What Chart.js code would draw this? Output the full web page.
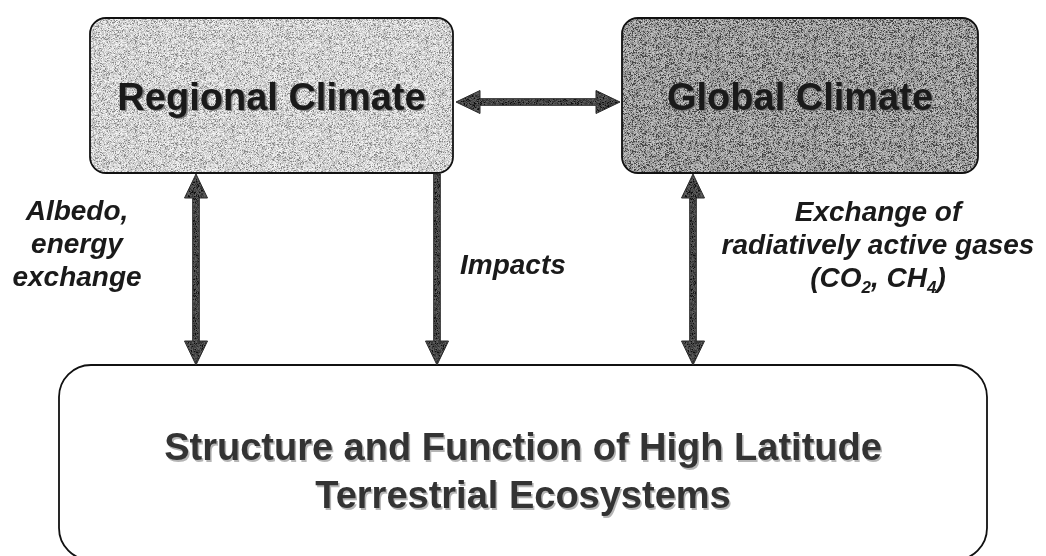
<!DOCTYPE html>
<html>
<head>
<meta charset="utf-8">
<script src="https://cdn.jsdelivr.net/npm/chart.js@4"></script>
<style>
  body { margin: 0; background: #fff; }
  #wrap { width: 1046px; height: 556px; }
</style>
</head>
<body>
<div id="wrap"><canvas id="diagram" width="1046" height="556"></canvas></div>
<script>
// boxes of the diagram
let nodeNames = ['Regional Climate', 'Global Climate', 'Structure and Function of High Latitude|Terrestrial Ecosystems']
let nodeShade = ['light', 'dark', 'none']

// links between boxes
let linkFrom = [0, 0, 0, 1]
let linkTo = [1, 2, 2, 2]
let linkTwoWay = [true, true, false, true]
let linkLabels = ['', 'Albedo,|energy|exchange', 'Impacts', 'Exchange of|radiatively active gases|(CO_2, CH_4)']

// layout (in axis units, 1 unit = 1px of the reference)
let boxLayout = [
    { x0: 90, x1: 453, y0: 18, y1: 173, r: 16, size: 38, lh: 0 },
    { x0: 622, x1: 978, y0: 18, y1: 173, r: 16, size: 38, lh: 0 },
    { x0: 59, x1: 987, y0: 365, y1: 560, r: 32, size: 38, lh: 48 }
]
let linkLayout = [
    { dir: 'h', at: 102 },
    { dir: 'v', at: 196 },
    { dir: 'v', at: 437 },
    { dir: 'v', at: 693 }
]
let labelLayout = [
    null,
    { x: 77, y: 220, align: 'center' },
    { x: 460, y: 274, align: 'left' },
    { x: 878, y: 221, align: 'center' }
]

// speckled fills like the scanned original
function speckle (ctx, base, spread, dark) {
    let c = document.createElement('canvas')
    c.width = 97; c.height = 89
    let g = c.getContext('2d')
    let img = g.createImageData(97, 89)
    for (let i = 0; i < 97 * 89; i++) {
        let s = Math.sin(i * 12.9898 + 78.233) * 43758.5453
        let n = s - Math.floor(s)
        let v = base + (n - 0.5) * spread
        if (n > 1 - dark) v = base - spread
        v = Math.max(0, Math.min(255, v))
        img.data[i * 4] = v; img.data[i * 4 + 1] = v; img.data[i * 4 + 2] = v; img.data[i * 4 + 3] = 255
    }
    g.putImageData(img, 0, 0)
    return ctx.createPattern(c, 'repeat')
}

function roundRect (ctx, x0, y0, x1, y1, r) {
    ctx.beginPath()
    ctx.moveTo(x0 + r, y0)
    ctx.lineTo(x1 - r, y0)
    ctx.arcTo(x1, y0, x1, y0 + r, r)
    ctx.lineTo(x1, y1 - r)
    ctx.arcTo(x1, y1, x1 - r, y1, r)
    ctx.lineTo(x0 + r, y1)
    ctx.arcTo(x0, y1, x0, y1 - r, r)
    ctx.lineTo(x0, y0 + r)
    ctx.arcTo(x0, y0, x0 + r, y0, r)
    ctx.closePath()
}

// arrow from (ax,ay) to (bx,by), heads on one or both ends
function arrow (ctx, ax, ay, bx, by, both, fill) {
    let len = Math.hypot(bx - ax, by - ay)
    let hl = 24, hw = 11.5, sw = 3.3
    ctx.save()
    ctx.translate(ax, ay)
    ctx.rotate(Math.atan2(by - ay, bx - ax))
    ctx.beginPath()
    let s = both ? hl : 0
    ctx.moveTo(s, -sw)
    ctx.lineTo(len - hl, -sw)
    ctx.lineTo(len - hl, -hw)
    ctx.lineTo(len, 0)
    ctx.lineTo(len - hl, hw)
    ctx.lineTo(len - hl, sw)
    ctx.lineTo(s, sw)
    if (both) {
        ctx.lineTo(hl, hw)
        ctx.lineTo(0, 0)
        ctx.lineTo(hl, -hw)
    }
    ctx.closePath()
    ctx.fillStyle = fill
    ctx.fill()
    ctx.strokeStyle = '#2a2a2a'
    ctx.lineWidth = 1
    ctx.stroke()
    ctx.restore()
}

// text with _x subscripts
function richText (ctx, text, x, y, align, size) {
    let parts = []
    let re = /_(.)/g, last = 0, m
    while ((m = re.exec(text)) !== null) {
        parts.push([text.slice(last, m.index), false])
        parts.push([m[1], true])
        last = m.index + 2
    }
    parts.push([text.slice(last), false])
    let big = 'italic bold ' + size + 'px "Liberation Sans", Arial, sans-serif'
    let small = 'italic bold ' + Math.round(size * 0.62) + 'px "Liberation Sans", Arial, sans-serif'
    let total = 0
    parts.forEach(function (p) { ctx.font = p[1] ? small : big; total += ctx.measureText(p[0]).width })
    let cx = align === 'center' ? x - total / 2 : x
    ctx.textAlign = 'left'
    parts.forEach(function (p) {
        ctx.font = p[1] ? small : big
        ctx.fillText(p[0], cx, p[1] ? y + size * 0.22 : y)
        cx += ctx.measureText(p[0]).width
    })
}

let diagramPlugin = {
    id: 'diagram',
    afterDraw: function (chart) {
        let ctx = chart.ctx
        let xs = chart.scales.x, ys = chart.scales.y
        let px = function (v) { return xs.getPixelForValue(v) }
        let py = function (v) { return ys.getPixelForValue(v) }
        let fills = {
            light: speckle(ctx, 218, 80, 0.12),
            dark: speckle(ctx, 170, 100, 0.18),
            none: '#ffffff'
        }
        let arrowFill = speckle(ctx, 75, 60, 0.1)

        ctx.save()
        // boxes
        nodeNames.forEach(function (name, i) {
            let b = boxLayout[i]
            roundRect(ctx, px(b.x0), py(b.y0), px(b.x1), py(b.y1), b.r)
            ctx.fillStyle = fills[nodeShade[i]]
            ctx.fill()
            ctx.strokeStyle = '#111'
            ctx.lineWidth = 1.8
            ctx.stroke()

            let lines = name.split('|')
            let cx = (px(b.x0) + px(b.x1)) / 2
            let top = i === 2 ? py(b.y0) + 95 : (py(b.y0) + py(b.y1)) / 2 + 14
            ctx.font = 'bold ' + b.size + 'px "Liberation Sans", Arial, sans-serif'
            ctx.textAlign = 'center'
            lines.forEach(function (t, k) {
                let y = top + k * b.lh
                ctx.fillStyle = i === 2 ? 'rgba(150,150,150,0.7)' : 'rgba(110,110,110,0.8)'
                ctx.fillText(t, cx + 1.5, y + 1.5)
                ctx.fillStyle = i === 2 ? '#333' : '#1a1a1a'
                ctx.fillText(t, cx, y)
            })
        })

        // links
        linkFrom.forEach(function (f, i) {
            let a = boxLayout[f], b = boxLayout[linkTo[i]], l = linkLayout[i]
            if (l.dir === 'h') {
                arrow(ctx, px(a.x1) + 3, py(l.at), px(b.x0) - 2, py(l.at), linkTwoWay[i], arrowFill)
            } else {
                arrow(ctx, px(l.at), py(a.y1) + 1, px(l.at), py(b.y0), linkTwoWay[i], arrowFill)
            }
            let lab = labelLayout[i]
            if (lab) {
                ctx.fillStyle = '#1a1a1a'
                linkLabels[i].split('|').forEach(function (t, k) {
                    richText(ctx, t, px(lab.x), py(lab.y) + k * 33, lab.align, 28)
                })
            }
        })
        ctx.restore()
    }
}

new Chart(document.getElementById('diagram').getContext('2d'), {
    type: 'scatter',
    data: { datasets: [] },
    options: {
        responsive: false,
        animation: false,
        layout: { padding: 0 },
        plugins: { legend: { display: false }, tooltip: { enabled: false } },
        scales: {
            x: { type: 'linear', min: 0, max: 1046, display: false },
            y: { type: 'linear', min: 0, max: 556, reverse: true, display: false }
        }
    },
    plugins: [diagramPlugin]
})
</script>
</body>
</html>
